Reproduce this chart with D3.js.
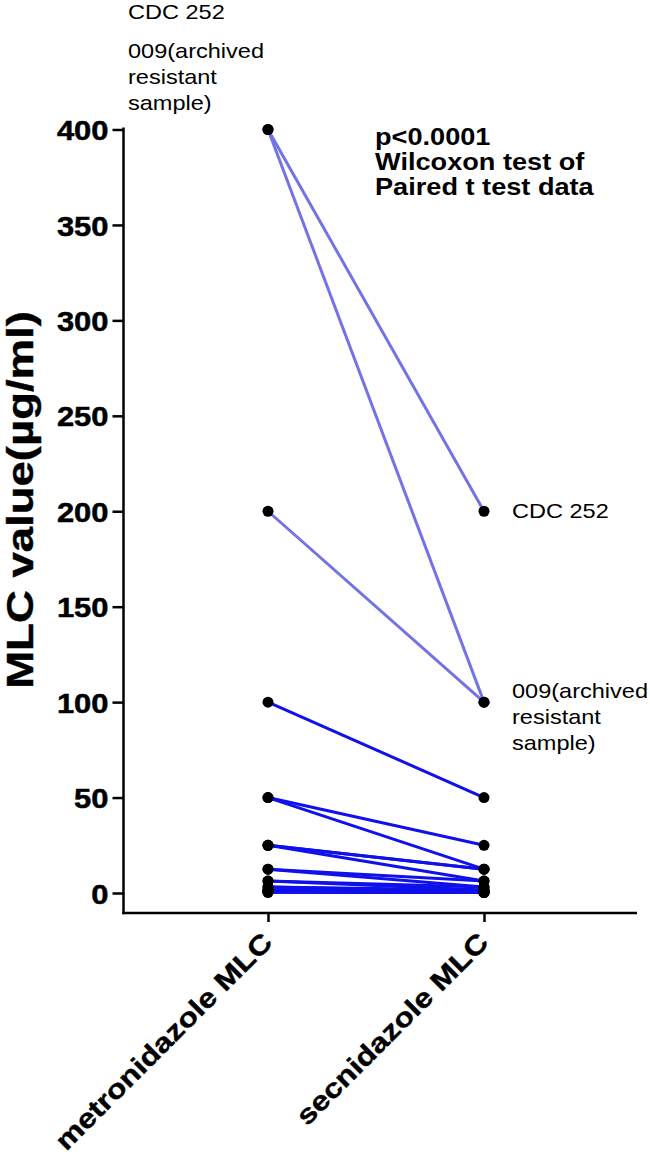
<!DOCTYPE html>
<html>
<head>
<meta charset="utf-8">
<script src="https://cdn.jsdelivr.net/npm/d3@7"></script>
<style>
  html, body { margin: 0; padding: 0; background: #fff; }
  svg { display: block; }
  text { font-family: "Liberation Sans", Arial, sans-serif; fill: #000; }
</style>
</head>
<body>
<svg id="chart" width="650" height="1162"></svg>
<script>
// ---------------- data ----------------
const categories = ["metronidazole MLC", "secnidazole MLC"];
// paired MLC values (µg/ml), one entry per isolate
const metronidazole = [400, 400, 200, 100, 50, 50, 25, 25, 25, 12.5, 12.5, 6.25, 6.25, 3.125, 3.125, 1.56, 1.56, 0.78, 0.78, 0.39, 0.39];
const secnidazole   = [200, 100, 100, 50, 25, 12.5, 12.5, 12.5, 6.25, 6.25, 3.125, 3.125, 1.56, 1.56, 0.78, 0.78, 0.39, 0.39, 0.2, 0.2, 0.2];
const highlighted   = [true, true, true, false, false, false, false, false, false, false, false, false, false, false, false, false, false, false, false, false, false];
const yTicks = [0, 50, 100, 150, 200, 250, 300, 350, 400];
const yTitle = "MLC value(µg/ml)";
const statLines = ["p<0.0001", "Wilcoxon test of", "Paired t test data"];
const topLabel1 = ["CDC 252"];
const topLabel2 = ["009(archived", "resistant", "sample)"];
const rightLabel1 = ["CDC 252"];
const rightLabel2 = ["009(archived", "resistant", "sample)"];
const rightLabelValues = [200, 100];

// ---------------- layout ----------------
const svg = d3.select("#chart");
const axisX = 123.5, axisBottom = 913, axisRight = 637;
const x = d3.scalePoint().domain(categories).range([268, 484]);
const y = d3.scaleLinear().domain([0, 400]).range([893, 129.5]);

function stretch(sel, sx) {
  sel.each(function () {
    const w = this.getComputedTextLength();
    if (w > 0) d3.select(this).attr("textLength", w * sx).attr("lengthAdjust", "spacingAndGlyphs");
  });
}

// y axis
const gy = svg.append("g").attr("transform", `translate(${axisX},0)`)
  .attr("font-size", 28).attr("font-family", "'Liberation Sans', Arial, sans-serif")
  .call(d3.axisLeft(y).tickValues(yTicks).tickSize(11).tickSizeOuter(0).tickPadding(4));
gy.select(".domain").remove();
gy.selectAll(".tick line").attr("stroke", "#000").attr("stroke-width", 2.5);
gy.selectAll(".tick text")
  .style("font-size", "28px").style("font-weight", "bold")
  .attr("fill", "#000").attr("stroke", "#000").attr("stroke-width", 0.5)
  .attr("dy", "0.36em")
  .attr("textLength", d => String(d).length * 17.2)
  .attr("lengthAdjust", "spacingAndGlyphs");
svg.append("line").attr("x1", axisX).attr("x2", axisX).attr("y1", y(400) - 2).attr("y2", axisBottom + 1.25)
  .attr("stroke", "#000").attr("stroke-width", 2.5);

// x axis
const gx = svg.append("g").attr("transform", `translate(0,${axisBottom})`)
  .call(d3.axisBottom(x).tickSize(9).tickSizeOuter(0).tickFormat(""));
gx.select(".domain").remove();
gx.selectAll(".tick line").attr("stroke", "#000").attr("stroke-width", 2.5);
svg.append("line").attr("x1", axisX - 1.25).attr("x2", axisRight).attr("y1", axisBottom).attr("y2", axisBottom)
  .attr("stroke", "#000").attr("stroke-width", 2.5);

const xl = svg.append("g").selectAll("text").data(categories).join("text")
  .attr("transform", d => `translate(${x(d) + 6},${944}) rotate(-45)`)
  .attr("text-anchor", "end").style("font-size", "27px").style("font-weight", "bold")
  .attr("stroke", "#000").attr("stroke-width", 0.4)
  .text(d => d);
stretch(xl, 1.18);

// y title
const yt = svg.append("text")
  .attr("transform", `translate(33,500) rotate(-90)`)
  .attr("text-anchor", "middle").style("font-size", "37px").style("font-weight", "bold")
  .attr("stroke", "#000").attr("stroke-width", 0.4)
  .text(yTitle);
stretch(yt, 1.23);

// paired lines
const pairs = metronidazole.map((m, i) => ({ a: m, b: secnidazole[i], hi: highlighted[i] }));
const ordered = pairs.filter(p => !p.hi).concat(pairs.filter(p => p.hi));
svg.append("g").selectAll("line").data(ordered).join("line")
  .attr("x1", x(categories[0])).attr("x2", x(categories[1]))
  .attr("y1", d => y(d.a)).attr("y2", d => y(d.b))
  .attr("stroke", d => d.hi ? "#7373e6" : "#1010ec")
  .attr("stroke-width", 3);

// points
const pts = [];
pairs.forEach(p => { pts.push({ c: categories[0], v: p.a }); pts.push({ c: categories[1], v: p.b }); });
svg.append("g").selectAll("circle").data(pts).join("circle")
  .attr("cx", d => x(d.c)).attr("cy", d => y(d.v)).attr("r", 5.5).attr("fill", "#000");

// stats annotation
const st = svg.append("g").selectAll("text").data(statLines).join("text")
  .attr("x", 375).attr("y", (d, i) => 145 + i * 25)
  .style("font-size", "23px").style("font-weight", "bold").text(d => d);
stretch(st, 1.18);

// labels
function multiLabel(lines, x0, y0, lh) {
  const t = svg.append("g").selectAll("text").data(lines).join("text")
    .attr("x", x0).attr("y", (d, i) => y0 + i * lh)
    .style("font-size", "21px").text(d => d);
  stretch(t, 1.12);
}
multiLabel(topLabel1, 128, 19, 26);
multiLabel(topLabel2, 128, 58, 26);
// right labels, aligned to the secnidazole points they name
multiLabel(rightLabel1, 512, y(rightLabelValues[0]) + 7, 26);
multiLabel(rightLabel2, 512, y(rightLabelValues[1]) - 4, 26);
</script>
</body>
</html>
